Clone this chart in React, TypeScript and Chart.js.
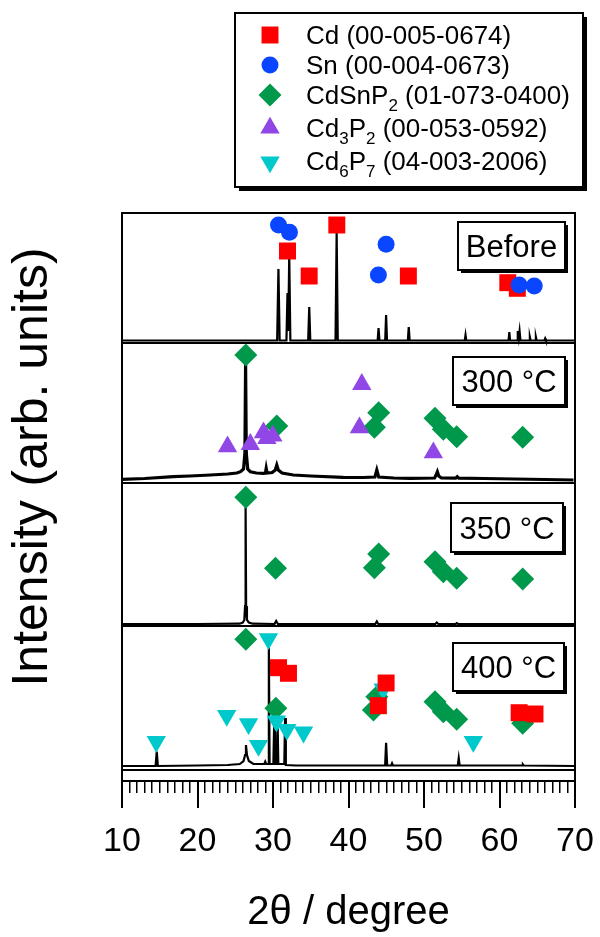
import React, { useEffect, useRef } from 'react';
import { Chart, registerables } from 'chart.js';
import { drawPoint } from 'chart.js/helpers';

Chart.register(...registerables);

const FONT = '"Liberation Sans", Arial, Helvetica, sans-serif';

// ---------- axis ----------
const X_MIN = 10;
const X_MAX = 70;
const X_MAJOR_STEP = 10;
const X_MINOR_STEP = 1;
const X_TITLE = '2θ / degree';
const Y_TITLE = 'Intensity (arb. units)';

// ---------- panels (stack offsets in arb. units, bottom to top edges) ----------
const PANEL_NAMES = ['Before', '300 °C', '350 °C', '400 °C'];
const PANEL_OFFSETS = [427, 287, 144, 0];
const PANEL_EDGES = [0, 144, 287, 427, 557];
const Y_MIN = -11;
const Y_MAX = 557;

// ---------- XRD traces: [2θ, intensity above panel floor] ----------
const BEFORE_TRACE = [
  [10, 2.5], [20, 2.5], [30.55, 2.5], [30.72, 74], [30.88, 2.5], [31.78, 2.5], [31.92, 50], [32.02, 12],
  [32.15, 88], [32.3, 2.5], [34.66, 2.5], [34.8, 36], [34.94, 2.5], [38.28, 2.5], [38.43, 110], [38.58, 2.5],
  [43.86, 2.5], [43.98, 15], [44.1, 2.5], [44.86, 2.5], [44.98, 28], [45.1, 2.5], [47.86, 2.5], [47.98, 16],
  [48.1, 2.5], [55.4, 2.5], [55.5, 8], [55.6, 2.5], [61.2, 2.5], [61.3, 11], [61.4, 2.5], [62.32, 2.5],
  [62.42, 12], [62.55, 5], [62.66, 12], [62.78, 2.5], [63.92, 2.5], [64.02, 6], [64.12, 2.5], [64.72, 2.5],
  [64.82, 6], [64.92, 2.5], [65.95, 2.5], [66.05, 4.5], [66.15, 2.5], [70, 2.5],
];
const T300_TRACE = [
  [10, 3.7], [13, 4.5], [16.8, 6.3], [19, 7], [21.7, 8], [24, 9], [25.2, 10], [25.7, 11.3], [26.1, 14],
  [26.28, 30], [26.37, 120], [26.46, 30], [26.65, 14], [27, 11.3], [27.8, 10], [28.74, 9.7], [29.0, 10],
  [29.1, 14.7], [29.22, 10], [29.9, 10.5], [30.3, 13], [30.5, 18], [30.7, 13], [31.2, 10], [32.7, 8],
  [35, 7], [39.3, 5.7], [42, 5.5], [43.5, 6], [43.75, 13], [44.0, 6], [46, 5], [48.16, 4.7], [51.4, 5],
  [51.6, 8], [51.77, 11.3], [51.95, 7], [52.3, 5], [54.2, 4.8], [54.4, 6.3], [54.6, 4.8], [58, 4.5],
  [62, 4], [66, 3.5], [69.8, 3],
];
const T350_TRACE = [
  [10, 2], [20, 2], [25.6, 2.3], [26.0, 3.5], [26.2, 6], [26.3, 20], [26.37, 122], [26.44, 20], [26.55, 6],
  [26.8, 3.5], [27.3, 2.3], [30.2, 2], [30.42, 5], [30.65, 2], [43.55, 2], [43.75, 4.5], [43.95, 2],
  [51.5, 2], [51.7, 3.5], [51.9, 2], [54.2, 2], [54.35, 2.8], [54.5, 2], [70, 2],
];
const T400_TRACE = [
  [10, 4], [14.45, 4], [14.6, 18.3], [14.75, 4], [20, 4.5], [24, 5], [25.6, 6], [26.1, 9], [26.3, 15],
  [26.42, 25], [26.55, 15], [26.8, 9], [27.4, 6], [28.85, 6], [28.97, 8.3], [29.1, 6], [29.35, 6],
  [29.45, 122], [29.55, 6], [30.05, 6], [30.15, 45], [30.25, 6], [30.5, 6], [30.6, 53], [30.7, 6],
  [31.5, 6], [31.6, 52], [31.7, 5], [33, 4.5], [40, 4.5], [44.85, 4.5], [44.98, 27.3], [45.12, 4.5],
  [45.65, 4.5], [45.77, 6.7], [45.9, 4.5], [54.48, 4.5], [54.6, 11.7], [54.72, 4.5], [63, 4.5],
  [63.1, 5.5], [63.2, 4.5], [70, 4],
];

// ---------- reference-pattern markers: [2θ, height above panel floor] ----------
const BEFORE_CD = [[31.92, 92], [34.79, 67], [38.45, 118], [47.93, 67], [61.1, 60.3], [62.36, 54.7]];
const BEFORE_SN = [[30.73, 118], [32.18, 110.7], [43.96, 68], [44.98, 98.7], [62.6, 58], [64.6, 57]];
const T300_CDSNP2 = [[26.4, 128], [30.5, 57], [43.43, 55.7], [44.0, 70.3], [51.46, 64.7], [52.56, 53.7], [54.33, 46.3], [63.07, 45.7]];
const T300_CD3P2 = [[23.98, 36.3], [27.0, 38.7], [28.74, 50.3], [29.19, 44.7], [29.98, 47], [41.45, 55.3], [41.76, 98.7], [51.24, 30.3]];
const T350_CDSNP2 = [[26.4, 128.7], [30.33, 57.7], [43.43, 58.3], [44.0, 72], [51.46, 64.3], [52.56, 54.3], [54.33, 47.7], [63.07, 47]];
const T400_CDSNP2 = [[26.4, 130.7], [30.38, 61.7], [43.3, 60], [43.75, 73.3], [51.46, 68.3], [52.56, 58.3], [54.33, 50.7], [63.07, 46.7]];
const T400_CD6P7 = [[14.54, 28.5], [23.87, 54.5], [26.76, 46.2], [28.08, 24.5], [29.4, 131.2], [30.45, 48.8], [31.83, 40.5], [34.04, 37.8], [44.6, 81], [56.53, 28.5]];
const T400_CD = [[30.73, 102.3], [32.05, 96.7], [43.96, 64.3], [44.98, 87], [62.6, 57.3], [64.7, 56]];

// ---------- phases (legend) ----------
const PHASE_KEYS = ['cd', 'sn', 'cdsnp2', 'cd3p2', 'cd6p7'];
const PHASE_LABELS: { t: string; sub?: boolean }[][] = [
  [{ t: 'Cd (00-005-0674)' }],
  [{ t: 'Sn (00-004-0673)' }],
  [{ t: 'CdSnP' }, { t: '2', sub: true }, { t: ' (01-073-0400)' }],
  [{ t: 'Cd' }, { t: '3', sub: true }, { t: 'P' }, { t: '2', sub: true }, { t: ' (00-053-0592)' }],
  [{ t: 'Cd' }, { t: '6', sub: true }, { t: 'P' }, { t: '7', sub: true }, { t: ' (04-003-2006)' }],
];

// ---------- styles ----------
const PHASE_STYLE: Record<string, { color: string; pointStyle: string; radius: number; rotation: number; order: number }> = {
  cd: { color: '#ff0000', pointStyle: 'rect', radius: 12, rotation: 0, order: 2 },
  sn: { color: '#0a46ff', pointStyle: 'circle', radius: 8.5, rotation: 0, order: 1 },
  cdsnp2: { color: '#00994c', pointStyle: 'rectRot', radius: 11.5, rotation: 0, order: 6 },
  cd3p2: { color: '#9146e6', pointStyle: 'triangle', radius: 11.2, rotation: 0, order: 5 },
  cd6p7: { color: '#00c9cc', pointStyle: 'triangle', radius: 11.2, rotation: 180, order: 4 },
};
const TRACE_WIDTHS = [2.2, 3.2, 2.2, 2.2];

// layout boxes (px)
const PANEL_LABEL_BOXES = [
  { l: 458, t: 222, r: 565, b: 270 },
  { l: 453, t: 357, r: 565, b: 405 },
  { l: 451, t: 503, r: 563, b: 552 },
  { l: 453, t: 643, r: 564, b: 691 },
];
const LEGEND_BOX = { l: 235, t: 13, r: 583, b: 187 };
const LEGEND_MARKER_X = 270;
const LEGEND_TEXT_X = 306;
const LEGEND_ROW_Y = [35, 65, 95, 128, 162];
const LEGEND_BASELINES = [43.5, 73.5, 103.5, 136.5, 170];

function toPts(arr: number[][], offset: number) {
  return arr.map(([x, h]) => ({ x, y: offset + h }));
}

function markerSet(key: string, arr: number[][], offset: number) {
  const s = PHASE_STYLE[key];
  return {
    type: 'scatter' as const,
    data: toPts(arr, offset),
    showLine: false,
    pointStyle: s.pointStyle,
    pointRadius: s.radius,
    pointHoverRadius: s.radius,
    pointRotation: s.rotation,
    pointBackgroundColor: s.color,
    pointBorderColor: s.color,
    pointBorderWidth: 0,
    order: s.order,
  };
}

function traceSet(arr: number[][], offset: number, width: number) {
  return {
    type: 'scatter' as const,
    data: toPts(arr, offset),
    showLine: true,
    borderColor: '#000',
    borderWidth: width,
    pointRadius: 0,
    pointHoverRadius: 0,
    tension: 0,
    fill: false,
    order: 10,
  };
}

const overlayPlugin = {
  id: 'overlay',
  afterDatasetsDraw(chart: any) {
    const ctx = chart.ctx as CanvasRenderingContext2D;
    ctx.save();
    PANEL_NAMES.forEach((name, i) => {
      const b = PANEL_LABEL_BOXES[i];
      const w = b.r - b.l;
      const h = b.b - b.t;
      ctx.fillStyle = '#000';
      ctx.fillRect(b.l + 3, b.t + 3, w, h);
      ctx.fillStyle = '#fff';
      ctx.fillRect(b.l, b.t, w, h);
      ctx.strokeStyle = '#000';
      ctx.lineWidth = 2;
      ctx.strokeRect(b.l, b.t, w, h);
      ctx.fillStyle = '#000';
      ctx.font = `31px ${FONT}`;
      ctx.textAlign = 'center';
      ctx.textBaseline = 'alphabetic';
      ctx.fillText(name, (b.l + b.r) / 2, (b.t + b.b) / 2 + 11);
    });
    ctx.restore();
  },
  afterDraw(chart: any) {
    const ctx = chart.ctx as CanvasRenderingContext2D;
    ctx.save();
    ctx.translate(33, 467);
    ctx.rotate(-Math.PI / 2);
    ctx.fillStyle = '#000';
    ctx.font = `50px ${FONT}`;
    ctx.textAlign = 'center';
    ctx.textBaseline = 'middle';
    ctx.fillText(Y_TITLE, 0, 0);
    ctx.restore();

    ctx.save();
    const L = LEGEND_BOX;
    const w = L.r - L.l;
    const h = L.b - L.t;
    ctx.fillStyle = '#000';
    ctx.fillRect(L.l + 4, L.t + 4, w, h);
    ctx.fillStyle = '#fff';
    ctx.fillRect(L.l, L.t, w, h);
    ctx.strokeStyle = '#000';
    ctx.lineWidth = 2;
    ctx.strokeRect(L.l, L.t, w, h);
    PHASE_KEYS.forEach((key, i) => {
      const s = PHASE_STYLE[key];
      ctx.fillStyle = s.color;
      ctx.strokeStyle = s.color;
      drawPoint(ctx, { pointStyle: s.pointStyle as any, radius: s.radius, rotation: s.rotation, borderWidth: 0 } as any, LEGEND_MARKER_X, LEGEND_ROW_Y[i]);
      ctx.fillStyle = '#000';
      ctx.textAlign = 'left';
      ctx.textBaseline = 'alphabetic';
      let x = LEGEND_TEXT_X;
      for (const part of PHASE_LABELS[i]) {
        ctx.font = `${part.sub ? 17 : 26}px ${FONT}`;
        ctx.fillText(part.t, x, LEGEND_BASELINES[i] + (part.sub ? 7 : 0));
        x += ctx.measureText(part.t).width;
      }
    });
    ctx.restore();
  },
};

export default function App() {
  const ref = useRef<HTMLCanvasElement>(null);
  useEffect(() => {
    const traces = [BEFORE_TRACE, T300_TRACE, T350_TRACE, T400_TRACE];
    const datasets: any[] = [
      ...traces.map((t, i) => traceSet(t, PANEL_OFFSETS[i], TRACE_WIDTHS[i])),
      markerSet('cd', BEFORE_CD, PANEL_OFFSETS[0]),
      markerSet('sn', BEFORE_SN, PANEL_OFFSETS[0]),
      markerSet('cdsnp2', T300_CDSNP2, PANEL_OFFSETS[1]),
      markerSet('cd3p2', T300_CD3P2, PANEL_OFFSETS[1]),
      markerSet('cdsnp2', T350_CDSNP2, PANEL_OFFSETS[2]),
      markerSet('cdsnp2', T400_CDSNP2, PANEL_OFFSETS[3]),
      markerSet('cd6p7', T400_CD6P7, PANEL_OFFSETS[3]),
      markerSet('cd', T400_CD, PANEL_OFFSETS[3]),
    ];
    const noSidePad = (s: any) => { s.paddingLeft = 0; s.paddingRight = 0; };
    const chart = new Chart(ref.current as HTMLCanvasElement, {
      type: 'scatter',
      data: { datasets },
      options: {
        animation: false,
        responsive: false,
        devicePixelRatio: 1,
        events: [],
        layout: { padding: { left: 0, right: 0, top: 213, bottom: 0 } },
        plugins: { legend: { display: false }, tooltip: { enabled: false } },
        scales: {
          x: {
            type: 'linear',
            position: 'bottom',
            min: X_MIN,
            max: X_MAX,
            weight: 1,
            ticks: {
              stepSize: X_MAJOR_STEP,
              autoSkip: false,
              maxRotation: 0,
              padding: 13,
              color: '#000',
              font: { family: FONT, size: 34 },
              callback: (v: any) => String(v),
            },
            grid: { drawOnChartArea: false, drawTicks: true, tickLength: 27, color: '#000', lineWidth: 2 },
            border: { display: true, color: '#000', width: 2 },
            title: { display: true, text: X_TITLE, color: '#000', font: { family: FONT, size: 40 }, padding: 0 },
            afterFit: (s: any) => { s.height = 156; noSidePad(s); },
          },
          xMinor: {
            type: 'linear',
            position: 'bottom',
            min: X_MIN,
            max: X_MAX,
            weight: 0,
            ticks: { display: false, stepSize: X_MINOR_STEP, autoSkip: false },
            grid: { drawOnChartArea: false, drawTicks: true, tickLength: 12, color: '#000', lineWidth: 1.5 },
            border: { display: false },
            afterFit: (s: any) => { s.height = 0; noSidePad(s); },
          },
          y: {
            type: 'linear',
            position: 'left',
            min: Y_MIN,
            max: Y_MAX,
            afterBuildTicks: (s: any) => { s.ticks = PANEL_EDGES.map((v) => ({ value: v })); },
            ticks: { display: false },
            grid: { color: '#000', lineWidth: 2, drawTicks: false },
            border: { display: true, color: '#000', width: 2 },
            afterFit: (s: any) => { s.width = 122; },
          },
          yRight: {
            type: 'linear',
            position: 'right',
            min: Y_MIN,
            max: Y_MAX,
            ticks: { display: false },
            grid: { display: false },
            border: { display: true, color: '#000', width: 2 },
            afterFit: (s: any) => { s.width = 25; },
          },
        },
      } as any,
      plugins: [overlayPlugin],
    });
    return () => chart.destroy();
  }, []);
  return (
    <div style={{ position: 'absolute', left: 0, top: 0, width: 600, height: 937, background: '#fff' }}>
      <canvas ref={ref} width={600} height={937} style={{ display: 'block', width: 600, height: 937 }} />
    </div>
  );
}
